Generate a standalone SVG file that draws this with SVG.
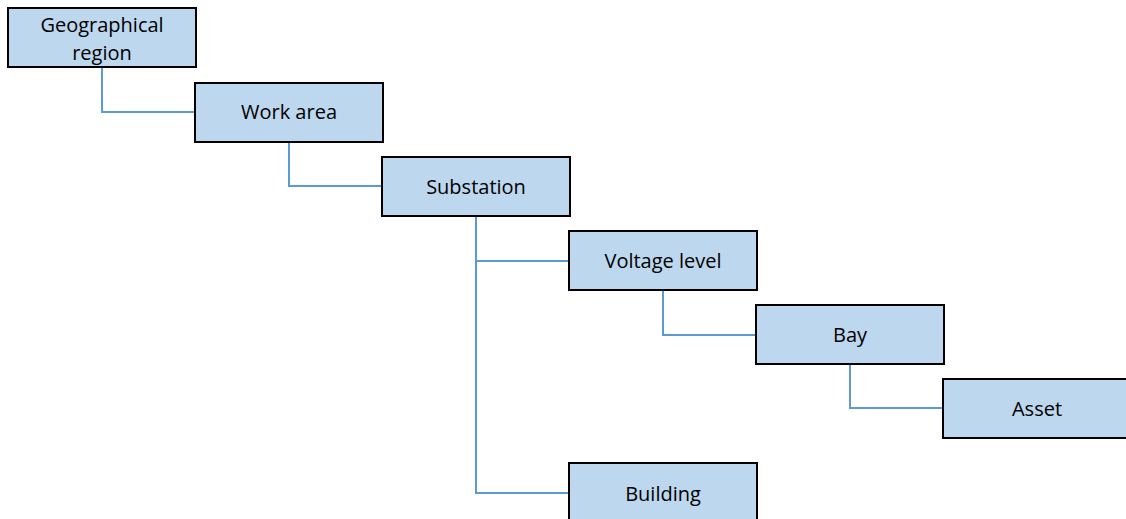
<svg xmlns="http://www.w3.org/2000/svg" width="1126" height="519" viewBox="0 0 1126 519">
<style>
.box{fill:#BDD7EE;stroke:#000;stroke-width:2}
.lbl{font-family:"Open Sans","Liberation Sans",sans-serif;font-size:20px;fill:#000;text-anchor:middle}
.conn{fill:none;stroke:#5B9BD5;stroke-width:2}
</style>
<rect width="1126" height="519" fill="#fff"/>
<g id="connectors">
<path class="conn" d="M102 67V112H195"/>
<path class="conn" d="M289 142V186H382"/>
<path class="conn" d="M476 216V493H569M476 261H569"/>
<path class="conn" d="M663 290V335H756"/>
<path class="conn" d="M850 364V408H943"/>
</g>
<g id="geographical-region"><rect class="box" x="8" y="8" width="188" height="59"/><text class="lbl" x="102" y="32">Geographical</text><text class="lbl" x="102" y="60">region</text></g>
<g id="work-area"><rect class="box" x="195" y="83" width="188" height="59"/><text class="lbl" x="289" y="119">Work area</text></g>
<g id="substation"><rect class="box" x="382" y="157" width="188" height="59"/><text class="lbl" x="476" y="194">Substation</text></g>
<g id="voltage-level"><rect class="box" x="569" y="231" width="188" height="59"/><text class="lbl" x="663" y="268">Voltage level</text></g>
<g id="bay"><rect class="box" x="756" y="305" width="188" height="59"/><text class="lbl" x="850" y="342">Bay</text></g>
<g id="asset"><rect class="box" x="943" y="379" width="188" height="59"/><text class="lbl" x="1037" y="416">Asset</text></g>
<g id="building"><rect class="box" x="569" y="463" width="188" height="70"/><text class="lbl" x="663" y="501">Building</text></g>
</svg>
